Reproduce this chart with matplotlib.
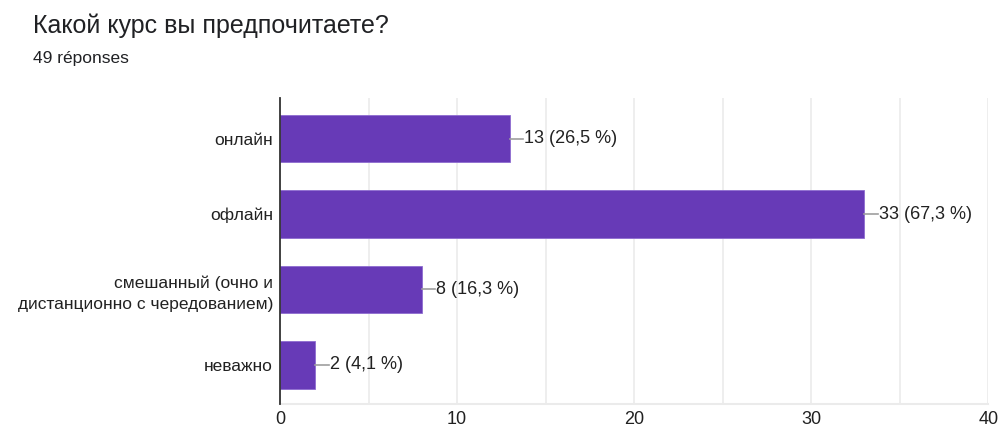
import numpy as np
import matplotlib.pyplot as plt

plt.rcParams['font.family'] = ['Liberation Sans', 'DejaVu Sans']

categories = ['онлайн', 'офлайн', 'смешанный (очно и\nдистанционно с чередованием)', 'неважно']
counts = [13, 33, 8, 2]
labels = ['13 (26,5 %)', '33 (67,3 %)', '8 (16,3 %)', '2 (4,1 %)']
xticks = [0, 10, 20, 30, 40]

purple = '#673ab7'

fig = plt.figure(figsize=(9.99, 4.30), dpi=100)
ax = fig.add_axes([0.2803, 0.0605, 0.709, 0.7115])

y = np.arange(len(categories))
ax.barh(y, counts, height=0.63, color=purple, edgecolor='#8e6cd0', linewidth=0.6, zorder=3)

for yi, c, lab in zip(y, counts, labels):
    ax.plot([c, c + 0.75], [yi, yi], color='#9e9e9e', lw=1.2, zorder=3)
    ax.text(c + 0.8, yi, lab, va='center', ha='left', fontsize=13, color='#212121')

ax.set_xlim(0, 40)
ax.set_ylim(3.52, -0.54)
ax.set_xticks(xticks)
ax.set_xticks([5, 15, 25, 35], minor=True)
ax.set_yticks(y)
ax.set_yticklabels(categories, fontsize=12.5, color='#212121', linespacing=1.5)
ax.tick_params(axis='x', which='both', length=0, labelsize=13, labelcolor='#212121', pad=5)
ax.tick_params(axis='y', length=0, pad=5)
ax.grid(axis='x', which='both', color='#ebebeb', lw=1.2, zorder=0)

for s in ['top', 'right']:
    ax.spines[s].set_visible(False)
ax.spines['bottom'].set_color('#ebebeb')
ax.spines['bottom'].set_linewidth(1.5)
ax.spines['left'].set_color('#333333')
ax.spines['left'].set_linewidth(1.3)
ax.spines['left'].set_zorder(4)

fig.text(0.033, 0.94, 'Какой курс вы предпочитаете?', fontsize=18, color='#202124', va='center')
fig.text(0.033, 0.865, '49 réponses', fontsize=12.5, color='#202124', va='center')

fig.savefig('out.png', dpi=100)
